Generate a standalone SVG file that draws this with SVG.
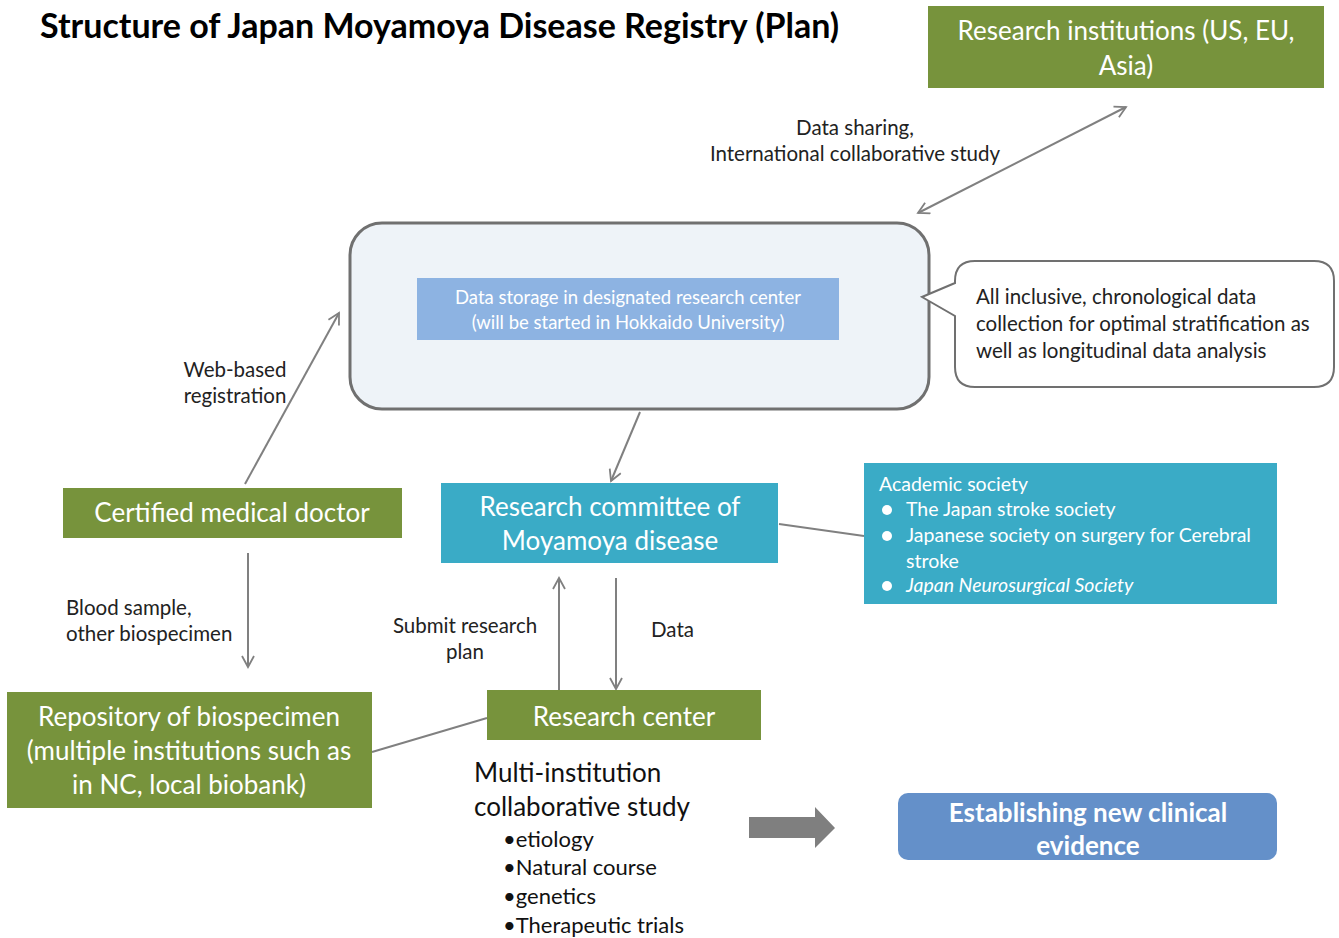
<svg xmlns="http://www.w3.org/2000/svg" width="1339" height="938" viewBox="0 0 1339 938">
<style>
text{font-family:Lato,"Open Sans","Liberation Sans",sans-serif}
.title{font-size:34px;font-weight:bold;fill:#000}
.wt{fill:#fff;font-size:26px;text-anchor:middle}
.lbl{fill:#222;font-size:20.5px}
.green{fill:#77933c}
.teal{fill:#3aabc6}
.con{stroke:#808080;stroke-width:2;fill:none}
</style>
<defs>
<marker id="ah" viewBox="0 0 14 14" refX="12" refY="7" markerWidth="14" markerHeight="14" markerUnits="userSpaceOnUse" orient="auto-start-reverse">
<path d="M1,1 L12,7 L1,13" fill="none" stroke="#808080" stroke-width="1.8"/>
</marker>
</defs>
<text class="title" x="40" y="38">Structure of Japan Moyamoya Disease Registry (Plan)</text>

<g id="connectors">
<line class="con" x1="918" y1="213" x2="1126" y2="107" marker-start="url(#ah)" marker-end="url(#ah)"/>
<line class="con" x1="640" y1="412" x2="611" y2="481" marker-end="url(#ah)"/>
<line class="con" x1="779" y1="524" x2="864" y2="536"/>
<line class="con" x1="245" y1="484" x2="339" y2="313" marker-end="url(#ah)"/>
<line class="con" x1="248" y1="553" x2="248" y2="667" marker-end="url(#ah)"/>
<line class="con" x1="372" y1="752" x2="487" y2="718"/>
<line class="con" x1="559" y1="690" x2="559" y2="578" marker-end="url(#ah)"/>
<line class="con" x1="616" y1="578" x2="616" y2="689" marker-end="url(#ah)"/>
<path d="M749,817 L815,817 L815,807 L835,828 L815,848 L815,838 L749,838 Z" fill="#7f7f7f"/>
</g>

<g id="labels">
<text class="lbl" text-anchor="middle" x="855" y="135">Data sharing,</text>
<text class="lbl" text-anchor="middle" x="855" y="161">International collaborative study</text>
<text class="lbl" text-anchor="middle" x="235" y="377">Web-based</text>
<text class="lbl" text-anchor="middle" x="235" y="403">registration</text>
<text class="lbl" x="66" y="615">Blood sample,</text>
<text class="lbl" x="66" y="641">other biospecimen</text>
<text class="lbl" text-anchor="middle" x="465" y="633">Submit research</text>
<text class="lbl" text-anchor="middle" x="465" y="659">plan</text>
<text class="lbl" x="651" y="637">Data</text>
</g>

<g id="research-institutions">
<rect class="green" x="928" y="6" width="396" height="82"/>
<text class="wt" x="1126" y="40" font-size="25">Research institutions (US, EU,</text>
<text class="wt" x="1126" y="75" font-size="25">Asia)</text>
</g>

<g id="data-storage">
<rect x="350" y="223" width="579" height="186" rx="32" fill="#eef3f8" stroke="#707070" stroke-width="3"/>
<rect x="417" y="278" width="422" height="62" fill="#8db3e2"/>
<text x="628" y="304" fill="#fff" font-size="18.5" text-anchor="middle">Data storage in designated research center</text>
<text x="628" y="329" fill="#fff" font-size="18.5" text-anchor="middle">(will be started in Hokkaido University)</text>
</g>

<g id="callout">
<path d="M975,261 L1314,261 Q1334,261 1334,281 L1334,367 Q1334,387 1314,387 L975,387 Q955,387 955,367 L955,316 L922,297 L955,283 L955,281 Q955,261 975,261 Z" fill="#fff" stroke="#707070" stroke-width="2"/>
<text class="lbl" x="976" y="304">All inclusive, chronological data</text>
<text class="lbl" x="976" y="331">collection for optimal stratification as</text>
<text class="lbl" x="976" y="358">well as longitudinal data analysis</text>
</g>

<g id="research-committee">
<rect class="teal" x="441" y="483" width="337" height="80"/>
<text class="wt" x="610" y="516" font-size="27.5">Research committee of</text>
<text class="wt" x="610" y="550" font-size="27.5">Moyamoya disease</text>
</g>

<g id="academic-society">
<rect class="teal" x="864" y="463" width="413" height="141"/>
<g fill="#fff" font-size="19.5">
<text x="879" y="491">Academic society</text>
<circle cx="887" cy="510" r="5"/>
<text x="906" y="516">The Japan stroke society</text>
<circle cx="887" cy="536" r="5"/>
<text x="906" y="542">Japanese society on surgery for Cerebral</text>
<text x="906" y="568">stroke</text>
<circle cx="887" cy="586" r="5"/>
<text x="906" y="592" font-style="italic">Japan Neurosurgical Society</text>
</g>
</g>

<g id="certified-doctor">
<rect class="green" x="63" y="488" width="339" height="50"/>
<text class="wt" x="232" y="522">Certified medical doctor</text>
</g>

<g id="repository">
<rect class="green" x="7" y="692" width="365" height="116"/>
<text class="wt" x="189" y="726">Repository of biospecimen</text>
<text class="wt" x="189" y="760">(multiple institutions such as</text>
<text class="wt" x="189" y="794">in NC, local biobank)</text>
</g>

<g id="research-center">
<rect class="green" x="487" y="690" width="274" height="50"/>
<text class="wt" x="624" y="726">Research center</text>
</g>

<g id="multi-study">
<text x="474" y="782" font-size="26" fill="#111">Multi-institution</text>
<text x="474" y="816" font-size="26" fill="#111">collaborative study</text>
<text x="503" y="847" font-size="22" fill="#111">•etiology</text>
<text x="503" y="875" font-size="22" fill="#111">•Natural course</text>
<text x="503" y="904" font-size="22" fill="#111">•genetics</text>
<text x="503" y="933" font-size="22" fill="#111">•Therapeutic trials</text>
</g>

<g id="clinical-evidence">
<rect x="898" y="793" width="379" height="67" rx="10" fill="#6490c9"/>
<text class="wt" x="1088" y="822" font-weight="bold" font-size="26.5">Establishing new clinical</text>
<text class="wt" x="1088" y="855" font-weight="bold" font-size="26.5">evidence</text>
</g>
</svg>
